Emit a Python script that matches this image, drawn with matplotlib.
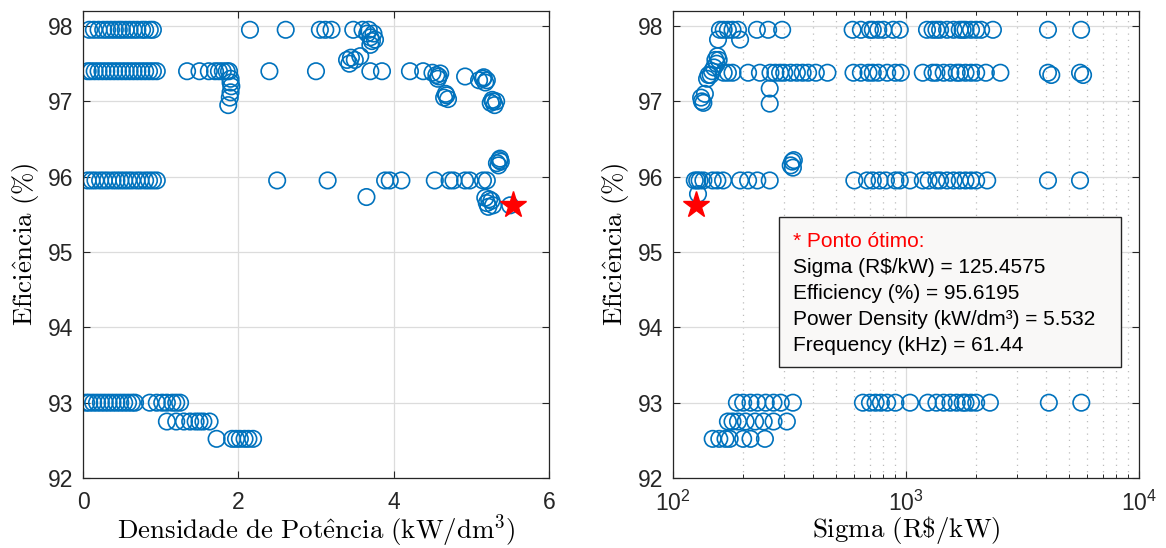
import numpy as np
import matplotlib
matplotlib.use('Agg')
import matplotlib.pyplot as plt
from matplotlib.patches import Rectangle

blue = '#0072BD'

# ---------------- left plot: power density vs efficiency ----------------
dens_980 = [0.08, 0.14, 0.2, 0.26, 0.31, 0.36, 0.41, 0.46, 0.5, 0.55, 0.6, 0.65,
            0.7, 0.76, 0.8, 0.86, 0.9, 2.15, 2.61, 3.05, 3.12, 3.2, 3.48, 3.6]
dens_980_hi = [3.66, 3.7, 3.72, 3.68, 3.74, 3.7, 3.76]
eff_980_hi = [97.9, 97.85, 97.8, 97.95, 97.9, 97.75, 97.82]

dens_974 = [0.06, 0.1, 0.15, 0.2, 0.25, 0.3, 0.35, 0.4, 0.45, 0.5, 0.55, 0.6,
            0.65, 0.7, 0.75, 0.8, 0.85, 0.9, 0.95, 1.34, 1.5, 1.62, 1.7, 1.75,
            1.8, 1.85, 1.88, 2.4, 3.0, 3.7, 3.85, 4.21, 4.38]
dens_973_var = [1.9, 1.9, 1.91, 1.9, 1.89, 1.87,
                3.4, 3.43, 3.45, 3.5, 3.57,
                4.5, 4.55, 4.58, 4.6, 4.57,
                4.65, 4.68, 4.7, 4.67,
                4.92, 5.1, 5.15, 5.18, 5.2, 5.16,
                5.25, 5.28, 5.3, 5.32, 5.27]
eff_973_var = [97.3, 97.25, 97.2, 97.12, 97.05, 96.95,
               97.55, 97.5, 97.58, 97.55, 97.6,
               97.38, 97.35, 97.33, 97.37, 97.3,
               97.05, 97.08, 97.03, 97.1,
               97.33, 97.28, 97.3, 97.25, 97.28, 97.32,
               96.98, 97.0, 96.95, 97.0, 97.02]

dens_960 = [0.06, 0.11, 0.16, 0.22, 0.27, 0.32, 0.38, 0.43, 0.48, 0.53, 0.58,
            0.63, 0.69, 0.74, 0.8, 0.85, 0.9, 0.95, 2.5, 3.15, 3.89, 3.95, 4.1,
            4.53, 4.72, 4.77, 4.92, 4.98, 5.15, 5.2]
dens_96_var = [3.65, 5.33, 5.36, 5.38, 5.35, 5.37,
               5.18, 5.2, 5.23, 5.26, 5.28, 5.22, 5.5]
eff_96_var = [95.73, 96.18, 96.22, 96.2, 96.15, 96.24,
              95.72, 95.65, 95.7, 95.68, 95.62, 95.6, 95.62]

dens_930 = [0.04, 0.08, 0.13, 0.18, 0.23, 0.28, 0.33, 0.38, 0.43, 0.48, 0.53,
            0.58, 0.63, 0.67, 0.86, 0.95, 1.02, 1.08, 1.15, 1.2, 1.25]
dens_9275 = [1.08, 1.2, 1.3, 1.38, 1.45, 1.5, 1.55, 1.63]
dens_925 = [1.72, 1.92, 1.97, 2.02, 2.08, 2.13, 2.19]

# ---------------- right plot: sigma vs efficiency ----------------
sig_980 = [159, 165, 172, 180, 190, 229, 256, 294, 590, 640, 700, 720, 760, 800,
           880, 940, 1230, 1300, 1350, 1400, 1500, 1600, 1700, 1750, 1800, 1900,
           2000, 2100, 2360, 4065, 5640]
sig_978 = [156, 194]

sig_974 = [165, 172, 180, 210, 236, 262, 275, 288, 300, 320, 340, 360, 380, 410,
           460, 595, 640, 690, 720, 760, 830, 900, 950, 1180, 1300, 1350, 1450,
           1550, 1650, 1700, 1800, 1900, 2000, 2200, 2540, 4065, 5580]
sig_97_var = [133, 132, 135, 137, 140, 142, 145, 147, 150, 152, 155, 157, 154,
              260, 260, 4200, 5750, 320, 325, 330, 327]
eff_97_var = [97.0, 97.05, 96.98, 97.1, 97.3, 97.35, 97.35, 97.4, 97.45, 97.55,
              97.6, 97.55, 97.5, 97.17, 96.97, 97.35, 97.35,
              96.15, 96.2, 96.22, 96.12]

sig_960 = [124, 127, 130, 135, 148, 155, 164, 194, 210, 230, 260, 600, 680, 720,
           770, 820, 900, 940, 1040, 1180, 1250, 1350, 1400, 1500, 1600, 1700,
           1800, 1900, 2000, 2230, 4065, 5580]
sig_958 = [128]

sig_930 = [188, 200, 215, 230, 250, 270, 290, 327, 653, 700, 740, 780, 830, 900,
           1040, 1240, 1350, 1450, 1550, 1650, 1750, 1800, 1900, 2000, 2290,
           4100, 5650]
sig_9275 = [172, 180, 190, 205, 225, 245, 270, 308]
sig_925 = [148, 158, 168, 175, 200, 215, 248]

# optimum point
opt_sigma = 125.4575
opt_eff = 95.6195
opt_dens = 5.532
opt_freq = 61.44

left_x = dens_980 + dens_980_hi + dens_974 + dens_973_var + dens_960 + dens_96_var + dens_930 + dens_9275 + dens_925
left_y = ([97.95] * len(dens_980) + eff_980_hi + [97.4] * len(dens_974) + eff_973_var
          + [95.95] * len(dens_960) + eff_96_var + [93.0] * len(dens_930)
          + [92.75] * len(dens_9275) + [92.52] * len(dens_925))

right_x = sig_980 + sig_978 + sig_974 + sig_97_var + sig_960 + sig_958 + sig_930 + sig_9275 + sig_925
right_y = ([97.95] * len(sig_980) + [97.82] * len(sig_978) + [97.38] * len(sig_974)
           + eff_97_var + [95.95] * len(sig_960) + [95.77] * len(sig_958)
           + [93.0] * len(sig_930) + [92.75] * len(sig_9275) + [92.52] * len(sig_925))

plt.rcParams['mathtext.fontset'] = 'cm'
plt.rcParams['font.family'] = 'Liberation Sans'
label_size = 19.4
dark = '#262626'

fig = plt.figure(figsize=(11.66, 5.48), dpi=100)
ax1 = fig.add_axes([0.0712, 0.1277, 0.3996, 0.8523])
ax2 = fig.add_axes([0.5772, 0.1277, 0.3997, 0.8523])

for ax in (ax1, ax2):
    ax.set_axisbelow(True)
    ax.grid(True, which='major', color='#dcdcdc', linewidth=0.9)
    ax.tick_params(direction='in', top=True, right=True, length=5, width=0.8,
                   labelsize=16.5, colors=dark)
    ax.tick_params(axis='y', pad=7)
    ax.tick_params(axis='x', pad=9)
    ax.tick_params(which='minor', direction='in', top=True, right=True, length=3)
    for s in ax.spines.values():
        s.set_linewidth(0.9)
        s.set_color(dark)
    ax.set_ylim(92, 98.2)
    ax.set_yticks([92, 93, 94, 95, 96, 97, 98])

ax1.scatter(left_x, left_y, s=140, facecolors='none', edgecolors=blue, linewidths=1.2)
ax1.plot(opt_dens, opt_eff, marker='*', color='red', markersize=20, markeredgecolor='red')
ax1.set_xlim(0, 6)
ax1.set_xticks([0, 2, 4, 6])
ax1.set_xlabel(r'$\mathrm{Densidade\ de\ Pot\hat{e}ncia\ (kW/dm^3)}$', fontsize=label_size, labelpad=-1)
ax1.set_ylabel(r'$\mathrm{Efici\hat{e}ncia\ (\%)}$', fontsize=label_size, labelpad=5)

ax2.scatter(right_x, right_y, s=140, facecolors='none', edgecolors=blue, linewidths=1.2)
ax2.plot(opt_sigma, opt_eff, marker='*', color='red', markersize=20, markeredgecolor='red')
ax2.set_xscale('log')
ax2.set_xlim(100, 10000)
ax2.set_xticks([100, 1000, 10000])
ax2.grid(True, which='minor', axis='x', color='#bdbdbd', linestyle=(0, (1, 4)), linewidth=0.9)
ax2.set_xlabel(r'$\mathrm{Sigma\ (R\$/kW)}$', fontsize=label_size, labelpad=-1)
ax2.set_ylabel(r'$\mathrm{Efici\hat{e}ncia\ (\%)}$', fontsize=label_size, labelpad=5)

# info box
ax2.add_patch(Rectangle((0.2275, 0.238), 0.7335, 0.321, transform=ax2.transAxes,
                        facecolor='#f9f8f7', edgecolor=dark, linewidth=1.0, zorder=5))
lines = ['* Ponto ótimo:',
         'Sigma (R$/kW) = %.4f' % opt_sigma,
         'Efficiency (%%) = %.4f' % opt_eff,
         'Power Density (kW/dm³) = %.3f' % opt_dens,
         'Frequency (kHz) = %.2f' % opt_freq]
y0 = 0.506
for i, t in enumerate(lines):
    ax2.text(0.2575, y0 - i * 0.0557, t, transform=ax2.transAxes, fontsize=15,
             color='red' if i == 0 else 'black',
             va='center', ha='left', zorder=6)

fig.savefig('out.png', dpi=100)
